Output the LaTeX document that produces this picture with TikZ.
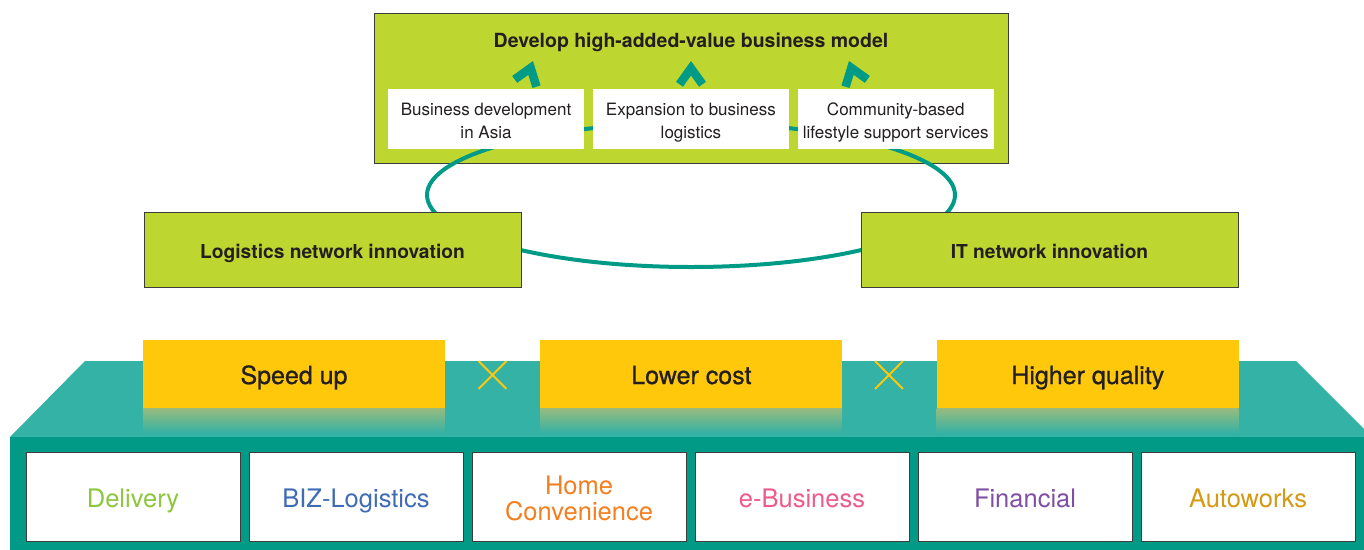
\documentclass[tikz,border=0pt]{standalone}
\usepackage{fontspec}
\setmainfont{TeX Gyre Heros}
\usetikzlibrary{positioning,shapes.geometric,shapes.misc,arrows.meta}

\definecolor{lime}{RGB}{190,214,48}
\definecolor{loopteal}{RGB}{0,155,135}
\definecolor{platform}{RGB}{51,178,165}
\definecolor{basecol}{RGB}{0,154,135}
\definecolor{gold}{RGB}{255,200,10}
\definecolor{fade}{RGB}{152,187,126}
\definecolor{ink}{RGB}{35,31,32}
\definecolor{edge}{RGB}{60,60,60}
\definecolor{cdelivery}{RGB}{141,198,63}
\definecolor{cbiz}{RGB}{63,108,181}
\definecolor{chome}{RGB}{244,127,32}
\definecolor{cebiz}{RGB}{238,90,138}
\definecolor{cfin}{RGB}{127,79,165}
\definecolor{cauto}{RGB}{212,154,20}

\newcommand{\wstrut}{\rule[-5pt]{0pt}{25pt}}
\newcommand{\ustrut}{\rule[-5.6pt]{0pt}{33.6pt}}

\begin{document}
\begin{tikzpicture}[x=1pt,y=-1pt,
		greenbox/.style={draw=edge,line width=0.8pt,fill=lime,inner sep=0pt,text=ink},
		whitebox/.style={fill=white,minimum width=196,minimum height=60,inner sep=0pt,align=center,text=ink,font=\fontsize{17}{23}\selectfont,
			execute at end node=\wstrut},
		sidebox/.style={greenbox,minimum width=377,minimum height=75,text height=17,text depth=0,font=\bfseries\fontsize{19.2}{22}\selectfont},
		goalbox/.style={fill=gold,minimum width=302,minimum height=68,inner sep=0pt,text=ink,text height=20,text depth=0,
			font=\fontsize{25}{28}\selectfont\addfontfeatures{FakeBold=0.8}},
		unitbox/.style={draw=edge,line width=0.8pt,fill=white,minimum width=214,minimum height=89,inner sep=0pt,align=center,font=\fontsize{25.5}{26}\selectfont,
			execute at end node=\ustrut},
		xmark/.style={cross out,draw=gold,line width=1.8pt,minimum size=26,inner sep=0pt},
		chevron/.style={draw=lime,line width=0.5pt,-{Straight Barb[length=16pt,width=23pt,line width=8.5pt,color=loopteal]}}]
		\useasboundingbox (0,0) rectangle (1364,549);

		\fill[platform]	(10,437) -- (85,361) -- (1296,361) -- (1372,437) -- cycle;
		\fill[basecol]	(10,437) rectangle (1370,552);

		\node[goalbox] 						(speed)		at (294,374)	{Speed up};
		\node[goalbox,right=95 of speed] 	(cost)					{Lower cost};
		\node[goalbox,right=94 of cost] 	(quality)				{Higher quality};
		\shade[top color=fade,bottom color=platform] (speed.south west) rectangle ++(302,25);
		\shade[top color=fade,bottom color=platform] (cost.south west) rectangle ++(302,25);
		\shade[top color=fade,bottom color=platform] (quality.south west) rectangle ++(302,25);
		\node[xmark] 						(times1)	at (492.5,375)	{};
		\node[xmark] 						(times2)	at (889,375)	{};

		\node[unitbox,text=cdelivery] 			(delivery)	at (133,496.5)	{Delivery};
		\node[unitbox,text=cbiz,right=8.2 of delivery] 	(biz)			{BIZ-Logistics};
		\node[unitbox,text=chome,right=8.2 of biz] 		(home)			{\ustrut Home\\Convenience};
		\node[unitbox,text=cebiz,right=8.2 of home] 	(ebiz)			{e-Business};
		\node[unitbox,text=cfin,right=8.2 of ebiz] 		(fin)			{Financial};
		\node[unitbox,text=cauto,right=8.2 of fin] 		(auto)			{Autoworks};

		\node[greenbox,minimum width=634,minimum height=150] (model) at (691,88) {};
		\node[anchor=base,text=ink,font=\bfseries\fontsize{19.5}{22}\selectfont] (title) at (691,47) {Develop high-added-value business model};
		\node[ellipse,draw=loopteal,line width=4pt,minimum width=528,minimum height=144,inner sep=0pt] (loop) at (691,195) {};

		\coordinate (tipL) at (533,61);
		\coordinate (tipM) at (691,61);
		\coordinate (tipR) at (849,61);
		\draw[chevron] (loop.164) -- (tipL);
		\draw[chevron] (loop.90) -- (tipM);
		\draw[chevron] (loop.16) -- (tipR);

		\node[whitebox] 					(asia)		at (486,119)	{\wstrut Business development\\in Asia};
		\node[whitebox,right=8.5 of asia] 	(bizlog)				{\wstrut Expansion to business\\logistics};
		\node[whitebox,right=8.5 of bizlog] (lifestyle)				{\wstrut Community-based\\lifestyle support services};

		\node[sidebox] 						(lognet)	at (332.5,249.5)	{Logistics network innovation};
		\node[sidebox] 						(itnet)		at (1049.5,249.5)	{IT network innovation};
	\end{tikzpicture}
\end{document}
